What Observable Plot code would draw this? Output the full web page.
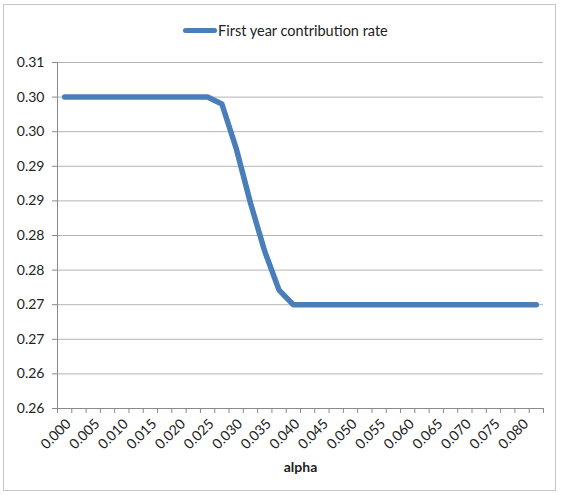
<!DOCTYPE html>
<html>
<head>
<meta charset="utf-8">
<script src="https://cdn.jsdelivr.net/npm/d3@7"></script>
<script src="https://cdn.jsdelivr.net/npm/@observablehq/plot@0.6"></script>
<style>
  html, body { margin: 0; padding: 0; background: #fff; }
  #wrap { position: relative; width: 563px; height: 495px; overflow: hidden; font-family: Lato, "Open Sans", sans-serif; }
  #frame { position: absolute; left: 3px; top: 4px; width: 553px; height: 487px; border: 1px solid #c6c6c6; box-sizing: border-box; }
  #legend { position: absolute; top: 21px; left: 183px; height: 18px; display: flex; align-items: center; font-size: 14.5px; color: #222; white-space: nowrap; }
  #legend .sw { display: inline-block; width: 34px; height: 5px; border-radius: 3px; background: #4a7ebb; margin-right: 1px; }
  #chart { position: absolute; left: 0; top: 0; }
</style>
</head>
<body>
<div id="wrap">
  <div id="frame"></div>
  <div id="chart"></div>
  <div id="legend"><span class="sw"></span><span id="legendText"></span></div>
</div>
<script>
// ---- data ----
const seriesName = "First year contribution rate";
const alpha = [0.0000, 0.0025, 0.0050, 0.0075, 0.0100, 0.0125, 0.0150, 0.0175, 0.0200, 0.0225, 0.0250,
               0.0275, 0.0300, 0.0325, 0.0350, 0.0375, 0.0400, 0.0425, 0.0450, 0.0475, 0.0500, 0.0525,
               0.0550, 0.0575, 0.0600, 0.0625, 0.0650, 0.0675, 0.0700, 0.0725, 0.0750, 0.0775, 0.0800,
               0.0825];
const rate  = [0.305, 0.305, 0.305, 0.305, 0.305, 0.305, 0.305, 0.305, 0.305, 0.305, 0.305,
               0.3040, 0.2976, 0.2897, 0.2827, 0.2771, 0.275, 0.275, 0.275, 0.275, 0.275, 0.275,
               0.275, 0.275, 0.275, 0.275, 0.275, 0.275, 0.275, 0.275, 0.275, 0.275, 0.275,
               0.275];
const xTickValues = [0.000, 0.005, 0.010, 0.015, 0.020, 0.025, 0.030, 0.035, 0.040,
                     0.045, 0.050, 0.055, 0.060, 0.065, 0.070, 0.075, 0.080];
const xTickLabels = ["0.000", "0.005", "0.010", "0.015", "0.020", "0.025", "0.030", "0.035", "0.040",
                     "0.045", "0.050", "0.055", "0.060", "0.065", "0.070", "0.075", "0.080"];
const yTickValues = [0.26, 0.265, 0.27, 0.275, 0.28, 0.285, 0.29, 0.295, 0.30, 0.305, 0.31];
const yTickLabels = ["0.26", "0.26", "0.27", "0.27", "0.28", "0.28", "0.29", "0.29", "0.30", "0.30", "0.31"];
const xAxisTitle = "alpha";

// ---- build ----
const data = alpha.map((a, i) => ({alpha: a, rate: rate[i]}));
const half = (alpha[1] - alpha[0]) / 2;
const xDomain = [alpha[0] - half, alpha[alpha.length - 1] + half];
const boundaries = alpha.map(a => a - half).concat([alpha[alpha.length - 1] + half]);

document.getElementById("legendText").textContent = seriesName;

const axisColor = "#8a8a8a";
const gridColor = "#b4b4b4";

const chart = Plot.plot({
  width: 563,
  height: 495,
  marginLeft: 57,
  marginRight: 20,
  marginTop: 62,
  marginBottom: 87,
  style: {fontFamily: "Lato, 'Open Sans', sans-serif", background: "transparent", color: "#222"},
  x: {type: "linear", domain: xDomain},
  y: {type: "linear", domain: [0.26, 0.31]},
  marks: [
    Plot.gridY(yTickValues, {stroke: gridColor, strokeOpacity: 1, strokeWidth: 1}),
    Plot.ruleX([xDomain[0]], {stroke: axisColor, strokeWidth: 1}),
    Plot.ruleY([0.26], {stroke: axisColor, strokeWidth: 1}),
    Plot.axisY(yTickValues, {
      tickSize: 5, tickPadding: 8, stroke: axisColor, fontSize: 14, fill: "#222",
      tickFormat: d => yTickLabels[yTickValues.indexOf(d)], label: null
    }),
    Plot.axisX(boundaries, {tickSize: 5, stroke: axisColor, tickFormat: () => "", label: null}),
    Plot.axisX(xTickValues, {
      tickSize: 0, tickPadding: 13, tickRotate: -45, fontSize: 14, fill: "#222", dx: 4,
      tickFormat: d => xTickLabels[xTickValues.indexOf(d)], label: null
    }),
    Plot.text([xAxisTitle], {frameAnchor: "bottom", dy: 63, fontSize: 14, fontWeight: "bold", fill: "#222"}),
    Plot.line(data, {x: "alpha", y: "rate", stroke: "#4a7ebb", strokeWidth: 5.5, strokeLinejoin: "round", strokeLinecap: "round"})
  ]
});
document.getElementById("chart").appendChild(chart);
</script>
</body>
</html>
